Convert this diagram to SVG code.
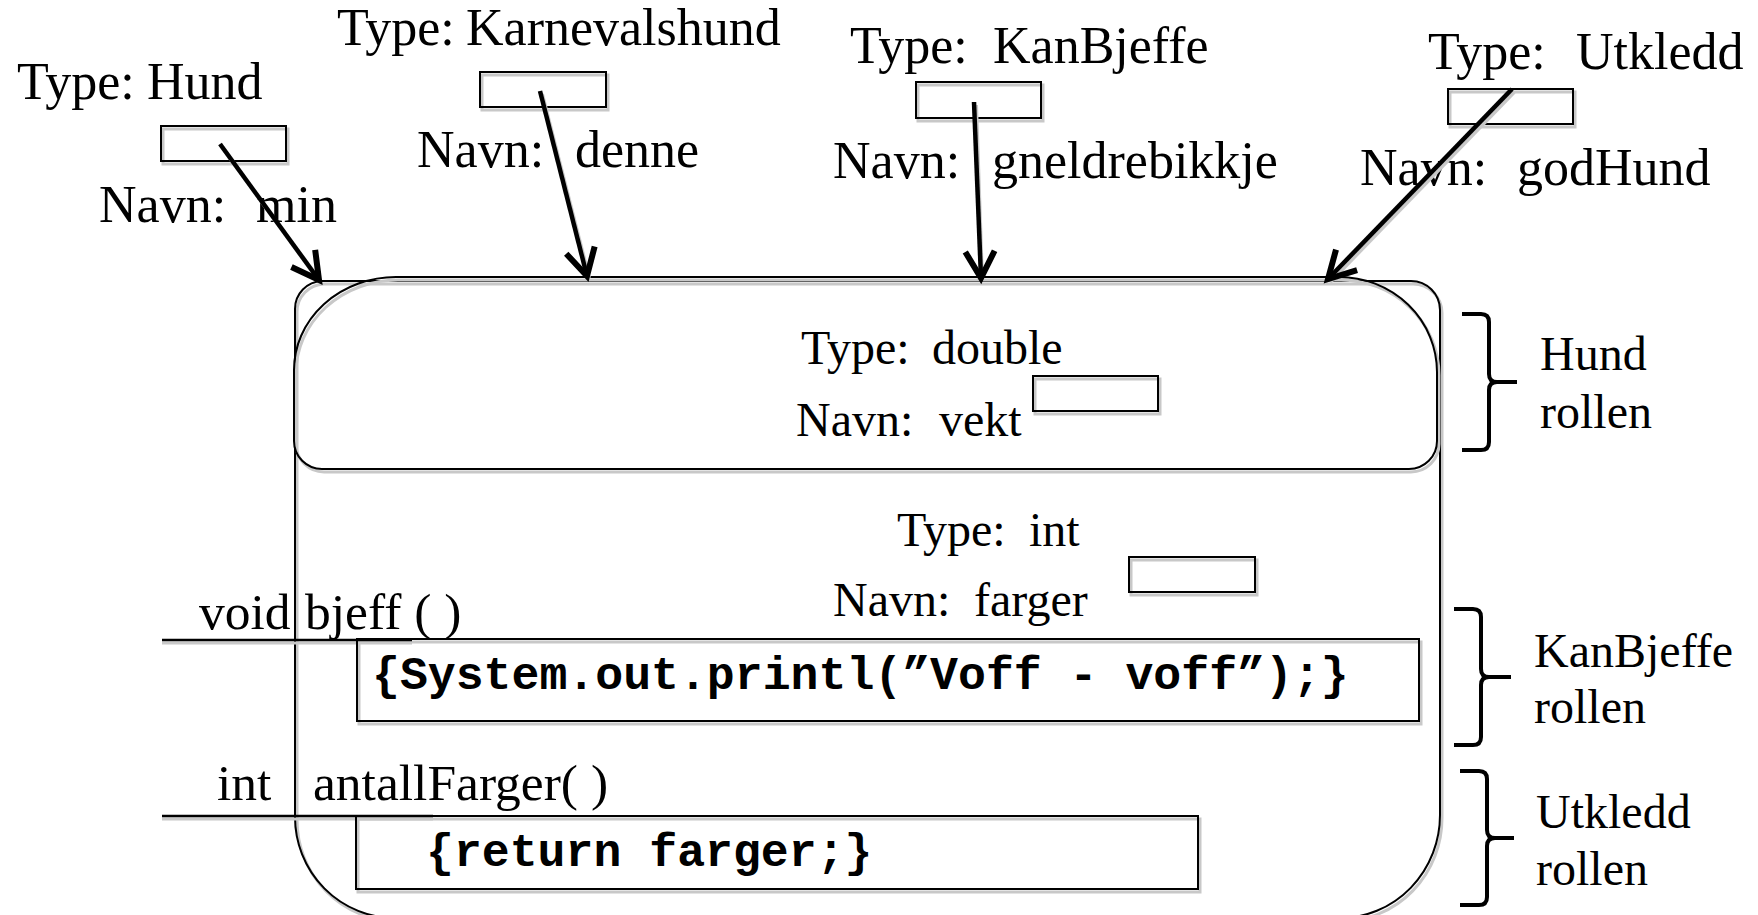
<svg xmlns="http://www.w3.org/2000/svg" width="1758" height="915" viewBox="0 0 1758 915">
<style>
  .t { font-family: "Liberation Serif", "Times New Roman", serif; fill: #000; }
  .top { font-size: 52px; }
  .mid { font-size: 48px; }
  .meth { font-size: 51.5px; }
  .code { font-family: "Liberation Mono", "Courier New", monospace; font-size: 46.5px; font-weight: bold; fill: #000; }
  .box { fill: none; stroke: #000; stroke-width: 2; }
  .shadow { fill: none; stroke: #c8c8c8; stroke-width: 3; }
  .shape { fill: none; stroke: #000; stroke-width: 2; }
  .arrow { fill: none; stroke: #000; stroke-width: 4.5; marker-end: url(#head); }
  .arrowsh { fill: none; stroke: #c8c8c8; stroke-width: 4; }
  .brace { fill: none; stroke: #000; stroke-width: 4; }
  .uline { stroke: #000; stroke-width: 2.5; }
</style>
<defs>
  <marker id="head" markerUnits="userSpaceOnUse" markerWidth="40" markerHeight="40" refX="0" refY="0" viewBox="-25 -15 30 30" orient="auto">
    <path d="M-20,-11 L0,0 L-20,11" fill="none" stroke="#000" stroke-width="4.5" stroke-linejoin="miter"/>
  </marker>
</defs>

<rect width="1758" height="915" fill="#fff"/>

<g id="object">
  <path class="shadow" transform="translate(2,3)" d="M322,281 H1411 A29,29 0 0 1 1440,310 V815 A100,103 0 0 1 1340,918 H395 A100,101 0 0 1 295,817 V309 A28,28 0 0 1 322,281 Z"/>
  <path class="shape" d="M322,281 H1411 A29,29 0 0 1 1440,310 V815 A100,103 0 0 1 1340,918 H395 A100,101 0 0 1 295,817 V309 A28,28 0 0 1 322,281 Z"/>
</g>

<g id="hund-rolle">
  <path class="shadow" transform="translate(2,3)" d="M396,277 H1339 A98,95 0 0 1 1437,372 V441 A28,28 0 0 1 1409,469 H322 A28,28 0 0 1 294,441 V370 A102,93 0 0 1 396,277 Z"/>
  <path class="shape" stroke-width="2.5" d="M396,277 H1339 A98,95 0 0 1 1437,372 V441 A28,28 0 0 1 1409,469 H322 A28,28 0 0 1 294,441 V370 A102,93 0 0 1 396,277 Z"/>
  <text class="t mid" x="801" y="364">Type: <tspan x="932">double</tspan></text>
  <text class="t mid" x="796" y="436">Navn: <tspan x="939">vekt</tspan></text>
  <rect class="shadow" x="1035" y="379" width="125" height="35"/>
  <rect class="box" x="1033" y="376" width="125" height="35" fill="#fff"/>
</g>

<g id="farger">
  <text class="t mid" x="897" y="546">Type: <tspan x="1029">int</tspan></text>
  <text class="t mid" x="833" y="616">Navn: <tspan x="974">farger</tspan></text>
  <rect class="shadow" x="1131" y="560" width="126" height="35"/>
  <rect class="box" x="1129" y="557" width="126" height="35" fill="#fff"/>
</g>

<g id="bjeff">
  <line class="shadow" x1="162" y1="643" x2="412" y2="643"/>
  <rect class="shadow" x="359" y="642" width="1062" height="82"/>
  <text class="t meth" x="199" y="629">void <tspan x="305">bjeff ( )</tspan></text>
  <line class="uline" x1="162" y1="640" x2="412" y2="640"/>
  <rect class="box" x="357" y="639" width="1062" height="82"/>
  <text class="code" x="372" y="689">{System.out.printl(”Voff - voff”);}</text>
</g>

<g id="antallFarger">
  <line class="shadow" x1="162" y1="819" x2="433" y2="819"/>
  <rect class="shadow" x="358" y="819" width="842" height="73"/>
  <text class="t meth" x="217" y="800">int</text>
  <text class="t meth" x="313" y="800">antallFarger( )</text>
  <line class="uline" x1="162" y1="816" x2="433" y2="816"/>
  <rect class="box" x="356" y="816" width="842" height="73"/>
  <text class="code" x="426" y="866">{return farger;}</text>
</g>

<g id="ref-hund">
  <text class="t top" x="17" y="99">Type: <tspan x="147">Hund</tspan></text>
  <rect class="shadow" x="163" y="129" width="125" height="35"/>
  <rect class="box" x="161" y="126" width="125" height="35" fill="#fff"/>
  <text class="t top" x="99" y="222">Navn: <tspan x="256">min</tspan></text>
</g>

<g id="ref-karnevalshund">
  <text class="t top" x="337" y="45">Type: <tspan x="466">Karnevalshund</tspan></text>
  <rect class="shadow" x="482" y="75" width="126" height="35"/>
  <rect class="box" x="480" y="72" width="126" height="35" fill="#fff"/>
  <text class="t top" x="417" y="167">Navn: <tspan x="575">denne</tspan></text>
</g>

<g id="ref-kanbjeffe">
  <text class="t top" x="850" y="63">Type: <tspan x="993">KanBjeffe</tspan></text>
  <rect class="shadow" x="918" y="85" width="125" height="36"/>
  <rect class="box" x="916" y="82" width="125" height="36" fill="#fff"/>
  <text class="t top" x="833" y="178">Navn: <tspan x="992">gneldrebikkje</tspan></text>
</g>

<g id="ref-utkledd">
  <text class="t top" x="1428" y="69">Type: <tspan x="1576">Utkledd</tspan></text>
  <rect class="shadow" x="1450" y="92" width="125" height="35"/>
  <rect class="box" x="1448" y="89" width="125" height="35" fill="#fff"/>
  <text class="t top" x="1360" y="185">Navn: <tspan x="1517">godHund</tspan></text>
</g>

<g id="braces">
  <path class="brace" d="M1462,314 H1481 Q1489,314 1489,322 V374 Q1489,382 1497,382 H1517 M1497,382 Q1489,382 1489,390 V442 Q1489,450 1481,450 H1462"/>
  <text class="t mid" x="1540" y="370">Hund</text>
  <text class="t mid" x="1540" y="428">rollen</text>
  <path class="brace" d="M1454,609 H1473 Q1481,609 1481,617 V669 Q1481,677 1489,677 H1511 M1489,677 Q1481,677 1481,685 V737 Q1481,745 1473,745 H1454"/>
  <text class="t mid" x="1534" y="667">KanBjeffe</text>
  <text class="t mid" x="1534" y="723">rollen</text>
  <path class="brace" d="M1460,771 H1479 Q1487,771 1487,779 V830 Q1487,838 1495,838 H1514 M1495,838 Q1487,838 1487,846 V897 Q1487,905 1479,905 H1460"/>
  <text class="t mid" x="1536" y="828">Utkledd</text>
  <text class="t mid" x="1536" y="885">rollen</text>
</g>

<g id="connectors">
  <line class="arrowsh" x1="222" y1="147" x2="320" y2="282"/>
  <line class="arrow" x1="220" y1="144" x2="319" y2="280"/>
  <line class="arrowsh" x1="542" y1="94" x2="589" y2="278"/>
  <line class="arrow" x1="540" y1="91" x2="587" y2="276"/>
  <line class="arrowsh" x1="976" y1="105" x2="982" y2="280"/>
  <line class="arrow" x1="974" y1="102" x2="981" y2="278"/>
  <line class="arrowsh" x1="1514" y1="92" x2="1330" y2="282"/>
  <line class="arrow" x1="1512" y1="89" x2="1328" y2="279"/>
</g>
</svg>
